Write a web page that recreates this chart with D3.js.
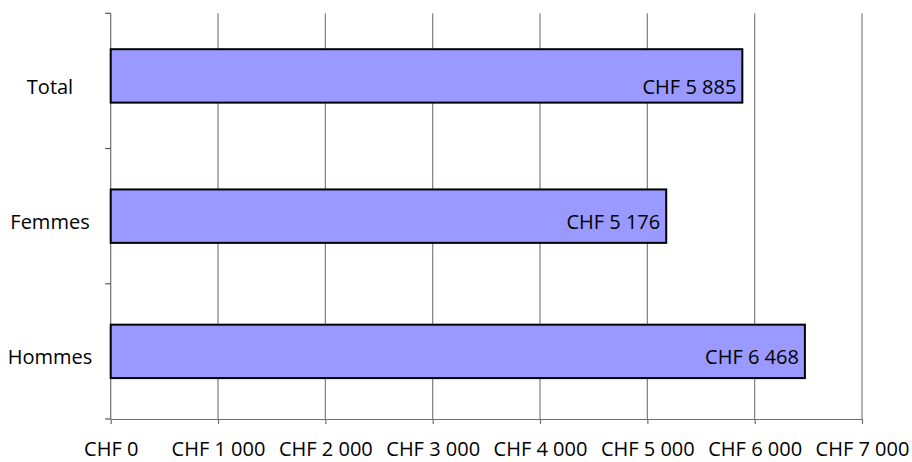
<!DOCTYPE html>
<html>
<head>
<meta charset="utf-8">
<script src="https://cdn.jsdelivr.net/npm/d3@7"></script>
<style>
  html, body { margin: 0; padding: 0; background: #fff; }
  svg text { font-family: "Open Sans", "Noto Sans", sans-serif; fill: #000; }
</style>
</head>
<body>
<svg id="chart" width="912" height="462"></svg>
<script>
const categories = ["Total", "Femmes", "Hommes"];
const values = [5885, 5176, 6468];
const tickValues = [0, 1000, 2000, 3000, 4000, 5000, 6000, 7000];

const fmt = v => "CHF " + d3.format(",")(v).replace(/,/g, " ");

const svg = d3.select("#chart");
const plotLeft = 110.7, plotRight = 862, plotTop = 13.3, plotBottom = 419;
const fontSize = "20px";

const x = d3.scaleLinear().domain([0, 7000]).range([plotLeft, plotRight]);
const y = d3.scaleBand().domain(categories).range([plotTop, plotBottom]).paddingInner(0).paddingOuter(0);
const bw = y.bandwidth();
const barH = bw * 0.395;

// gridlines
svg.append("g").selectAll("line")
  .data(tickValues.slice(1))
  .join("line")
  .attr("x1", d => x(d)).attr("x2", d => x(d))
  .attr("y1", plotTop).attr("y2", plotBottom)
  .attr("stroke", "#7f7f7f").attr("stroke-width", 1.2);

// x axis
const xAxis = svg.append("g")
  .attr("transform", `translate(0,${plotBottom})`)
  .call(d3.axisBottom(x).tickValues(tickValues).tickSize(5).tickSizeOuter(0).tickFormat(fmt));
xAxis.select(".domain").attr("stroke", "#6f6f6f").attr("stroke-width", 1.2);
xAxis.selectAll(".tick line").attr("stroke", "#6f6f6f").attr("stroke-width", 1.2);
xAxis.selectAll("text").attr("y", 37).attr("dy", 0)
  .style("font-size", fontSize).style("font-family", "'Open Sans', sans-serif").attr("fill", "#000");

// y axis line + ticks at band boundaries
const yBounds = categories.map(c => y(c)).concat([plotBottom]);
svg.append("line")
  .attr("x1", plotLeft).attr("x2", plotLeft).attr("y1", plotTop).attr("y2", plotBottom)
  .attr("stroke", "#6f6f6f").attr("stroke-width", 1.2);
svg.append("g").selectAll("line")
  .data(yBounds)
  .join("line")
  .attr("x1", plotLeft - 5.5).attr("x2", plotLeft)
  .attr("y1", d => d).attr("y2", d => d)
  .attr("stroke", "#555").attr("stroke-width", 1.2);

// bars
const data = categories.map((c, i) => ({ c, v: values[i] }));
svg.append("g").selectAll("rect")
  .data(data)
  .join("rect")
  .attr("x", x(0))
  .attr("y", d => y(d.c) + (bw - barH) / 2 - (d.c === "Total" ? 5 : 0))
  .attr("width", d => x(d.v) - x(0))
  .attr("height", barH)
  .attr("fill", "#9999ff")
  .attr("stroke", "#000")
  .attr("stroke-width", 2);

// value labels
svg.append("g").selectAll("text")
  .data(data)
  .join("text")
  .attr("x", d => x(d.v) - 6)
  .attr("y", d => y(d.c) + bw / 2 + 13)
  .attr("text-anchor", "end")
  .style("font-size", fontSize)
  .text(d => fmt(d.v));

// category labels
svg.append("g").selectAll("text")
  .data(categories)
  .join("text")
  .attr("x", 50)
  .attr("y", c => y(c) + bw / 2 + 13)
  .attr("text-anchor", "middle")
  .style("font-size", fontSize)
  .text(c => c);
</script>
</body>
</html>
